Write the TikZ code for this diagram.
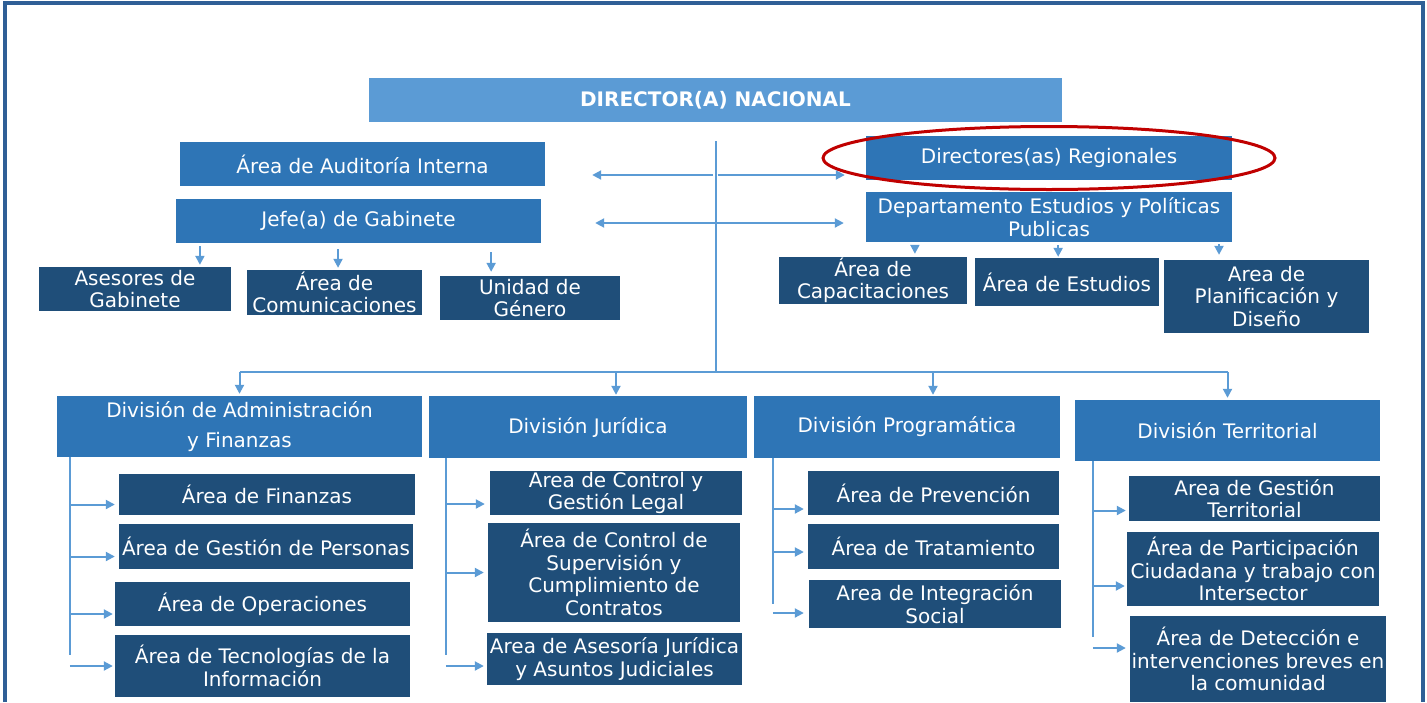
\documentclass[tikz,border=0pt]{standalone}
\usepackage{fontspec}
\setmainfont{DejaVu Sans}
\usetikzlibrary{arrows.meta,calc,shapes.geometric}
\definecolor{cabeza}{HTML}{5B9BD5}
\definecolor{medio}{HTML}{2E75B6}
\definecolor{oscuro}{HTML}{1F4E79}
\definecolor{marco}{HTML}{2F5F96}
\definecolor{linea}{HTML}{5B9BD5}
\definecolor{anillo}{HTML}{C00000}

\begin{document}
\begin{tikzpicture}[x=1pt,y=-1pt]
  \tikzset{unit/.style={text=white,align=center,inner sep=0pt,font=\fontsize{20}{22.5}\selectfont},
           jefatura/.style={unit,fill=cabeza,font=\fontsize{20}{22.5}\selectfont\bfseries},
           area/.style={unit,fill=medio},
           sub/.style={unit,fill=oscuro},
           sz/.style 2 args={minimum width=#1pt,minimum height=#2pt},
           ring/.style={ellipse,draw=anillo,line width=3pt},
           ln/.style={draw=linea,line width=2pt},
           tip/.tip={Triangle[length=9pt,width=9pt]},
           arr/.style={ln,-tip}}
  \useasboundingbox (0,0) rectangle (1427,702);
  \fill[white] (0,0) rectangle (1427,702);
  \draw[draw=marco,line width=4pt] (5,702) -- (5,3) -- (1423,3) -- (1423,702);

  % direccion y staff
  \node[jefatura,sz={693}{44}] (dir) at (715.5,100) {DIRECTOR(A) NACIONAL};
  \node[area,sz={365}{44}] (aud) at (362.5,164) {Área de Auditoría Interna};
  \node[area,sz={365}{44}] (jefe) at (358.5,221) {Jefe(a) de Gabinete};
  \node[sub,sz={192}{44}] (ases) at (135,289) {Asesores de\\Gabinete};
  \node[sub,sz={175}{45}] (comu) at (334.5,292.5) {Área de\\Comunicaciones};
  \node[sub,sz={180}{44}] (gene) at (530,298) {Unidad de\\Género};
  \node[area,sz={366}{44}] (dreg) at (1049,158) {Directores(as) Regionales};
  \node[area,sz={366}{50}] (dept) at (1049,217) {Departamento Estudios y Políticas\\Publicas};
  \node[sub,sz={188}{47}] (capa) at (873,280.5) {Área de\\Capacitaciones};
  \node[sub,sz={184}{48}] (estu) at (1067,282) {Área de Estudios};
  \node[sub,sz={205}{73}] (plan) at (1266.5,296.5) {Area de\\Planificación y\\Diseño};
  \node[ring,sz={452}{63}] (aro) at (dreg) {};

  % divisiones
  \node[area,sz={365}{61}] (adm) at (239.5,426.5) {División de Administración\\[7pt]y Finanzas};
  \node[area,sz={318}{62}] (jur) at (588,427) {División Jurídica};
  \node[area,sz={306}{62}] (prog) at (907,427) {División Programática};
  \node[area,sz={305}{61}] (terr) at (1227.5,430.5) {División Territorial};

  \node[sub,sz={296}{41}] (fin) at (267,494.5) {Área de Finanzas};
  \node[sub,sz={294}{45}] (pers) at (266,546.5) {Área de Gestión de Personas};
  \node[sub,sz={295}{44}] (oper) at (262.5,604) {Área de Operaciones};
  \node[sub,sz={295}{62}] (tecn) at (262.5,666) {Área de Tecnologías de la\\Información};

  \node[sub,sz={252}{44}] (ctrl) at (616,493) {Area de Control y\\Gestión Legal};
  \node[sub,sz={252}{99}] (supe) at (614,572.5) {Área de Control de\\Supervisión y\\Cumplimiento de\\Contratos};
  \node[sub,sz={255}{52}] (asju) at (614.5,659) {Area de Asesoría Jurídica\\y Asuntos Judiciales};

  \node[sub,sz={251}{44}] (prev) at (933.5,493) {Área de Prevención};
  \node[sub,sz={251}{45}] (trat) at (933.5,546.5) {Área de Tratamiento};
  \node[sub,sz={252}{48}] (inte) at (935,604) {Area de Integración\\Social};

  \node[sub,sz={251}{45}] (gest) at (1254.5,498.5) {Area de Gestión\\Territorial};
  \node[sub,sz={252}{74}] (part) at (1253,569) {Área de Participación\\Ciudadana y trabajo con\\Intersector};
  \node[sub,sz={256}{86}] (dete) at (1258,659) {Área de Detección e\\intervenciones breves en\\la comunidad};

  % tronco central
  \coordinate (hub) at ($(dir.south)+(0,250)$);
  \draw[ln] ($(dir.south)+(0,19)$) -- (hub);
  \coordinate (izq1) at ($(aud.east)+(47,11)$);
  \coordinate (izq2) at ($(jefe.east)+(54,2)$);
  \draw[arr,shorten <=3pt] (izq1 -| hub) -- (izq1);
  \draw[arr,shorten <=2pt,shorten >=21pt] (izq1 -| hub) -- (dreg.west |- izq1);
  \draw[ln,tip-tip,shorten >=22pt] (izq2) -- (dept.west |- izq2);

  \coordinate (j1) at ($(jefe.south west)!0.066!(jefe.south east)$);
  \coordinate (j2) at ($(jefe.south west)!0.444!(jefe.south east)$);
  \coordinate (j3) at ($(jefe.south west)!0.863!(jefe.south east)$);
  \draw[arr,shorten <=3pt,shorten >=2pt] (j1) -- (j1 |- ases.north);
  \draw[arr,shorten <=6pt,shorten >=2pt] (j2) -- (j2 |- comu.north);
  \draw[arr,shorten <=9pt,shorten >=4pt] (j3) -- (j3 |- gene.north);

  \coordinate (d1) at ($(dept.south west)!0.134!(dept.south east)$);
  \coordinate (d2) at ($(dept.south west)!0.525!(dept.south east)$);
  \coordinate (d3) at ($(dept.south west)!0.964!(dept.south east)$);
  \draw[arr,shorten <=3pt,shorten >=3pt] (d1) -- (d1 |- capa.north);
  \draw[arr,shorten <=3pt,shorten >=1pt] (d2) -- (d2 |- estu.north);
  \draw[arr,shorten <=2pt,shorten >=5pt] (d3) -- (d3 |- plan.north);

  % barra de divisiones
  \coordinate (jurin) at ($(jur.north)+(28,0)$);
  \coordinate (progin) at ($(prog.north)+(26,0)$);
  \draw[ln] (adm.north |- hub) -- (terr.north |- hub);
  \draw[arr,shorten >=2pt] (adm.north |- hub) -- (adm.north);
  \draw[arr,shorten >=1pt] (jurin |- hub) -- (jurin);
  \draw[arr,shorten >=1pt] (progin |- hub) -- (progin);
  \draw[arr,shorten >=2pt] (terr.north |- hub) -- (terr.north);

  % areas de cada division
  \coordinate (admt) at ($(adm.south west)+(13,0)$);
  \draw[ln] (admt) -- ++(0,198);
  \draw[arr,shorten >=4pt] ($(admt |- fin.west)+(0,10)$) -- ($(fin.west)+(0,10)$);
  \draw[arr,shorten >=4pt] ($(admt |- pers.west)+(0,10)$) -- ($(pers.west)+(0,10)$);
  \draw[arr,shorten >=2pt] ($(admt |- oper.west)+(0,10)$) -- ($(oper.west)+(0,10)$);
  \draw[arr,shorten >=2pt] (admt |- tecn.west) -- (tecn.west);

  \coordinate (jurt) at ($(jur.south west)+(17,0)$);
  \draw[ln] (jurt) -- ++(0,197);
  \draw[arr,shorten >=5pt] ($(jurt |- ctrl.west)+(0,11)$) -- ($(ctrl.west)+(0,11)$);
  \draw[arr,shorten >=4pt] (jurt |- supe.west) -- (supe.west);
  \draw[arr,shorten >=3pt] ($(jurt |- asju.west)+(0,7)$) -- ($(asju.west)+(0,7)$);

  \coordinate (progt) at ($(prog.south west)+(19,0)$);
  \draw[ln] (progt) -- ++(0,146);
  \draw[arr,shorten >=4pt] ($(progt |- prev.west)+(0,16)$) -- ($(prev.west)+(0,16)$);
  \draw[arr,shorten >=4pt] ($(progt |- trat.west)+(0,5.5)$) -- ($(trat.west)+(0,5.5)$);
  \draw[arr,shorten >=5pt] ($(progt |- inte.west)+(0,9)$) -- ($(inte.west)+(0,9)$);

  \coordinate (terrt) at ($(terr.south west)+(18,0)$);
  \draw[ln] (terrt) -- ++(0,176);
  \draw[arr,shorten >=3pt] ($(terrt |- gest.west)+(0,12)$) -- ($(gest.west)+(0,12)$);
  \draw[arr,shorten >=2pt] ($(terrt |- part.west)+(0,17)$) -- ($(part.west)+(0,17)$);
  \draw[arr,shorten >=4pt] ($(terrt |- dete.west)+(0,-11)$) -- ($(dete.west)+(0,-11)$);
\end{tikzpicture}
\end{document}
